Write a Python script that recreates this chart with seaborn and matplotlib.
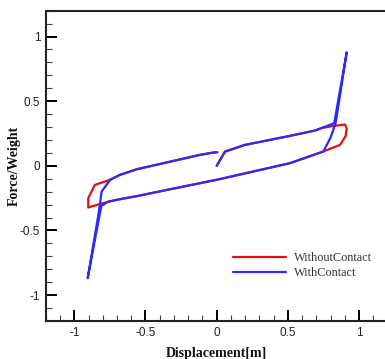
import matplotlib
matplotlib.use("Agg")
import matplotlib.pyplot as plt
import seaborn as sns
import pandas as pd
from matplotlib.ticker import MultipleLocator
from matplotlib.lines import Line2D

# ---- data ----
without_x = [0.0, 0.058, 0.198, 0.515, 0.69, 0.737, 0.80, 0.901, 0.913, 0.905, 0.866, 0.749,
             0.515, 0.02, -0.574, -0.68, -0.784, -0.902, -0.902, -0.855, -0.749,
             -0.68, -0.56, -0.117, -0.024, 0.004]
without_y = [0.0, 0.11, 0.162, 0.232, 0.273, 0.292, 0.305, 0.32, 0.29, 0.23, 0.162, 0.111,
             0.021, -0.103, -0.237, -0.258, -0.284, -0.322, -0.25, -0.147, -0.108,
             -0.07, -0.026, 0.085, 0.103, 0.105]

with_x = [0.0, 0.058, 0.198, 0.515, 0.69, 0.825, 0.913, 0.835, 0.80, 0.749,
          0.515, 0.02, -0.574, -0.68, -0.761, -0.81, -0.906, -0.831, -0.819, -0.808, -0.749,
          -0.68, -0.56, -0.117, -0.024, 0.004]
with_y = [0.0, 0.11, 0.162, 0.232, 0.273, 0.33, 0.879, 0.33, 0.22, 0.111,
          0.021, -0.103, -0.237, -0.258, -0.276, -0.31, -0.869, -0.379, -0.288, -0.199, -0.108,
          -0.07, -0.026, 0.085, 0.103, 0.105]

series_names = ["WithoutContact", "WithContact"]
series_colors = ["#e01010", "#2a2aff"]

x_ticks = [-1, -0.5, 0, 0.5, 1]
x_tick_labels = ["-1", "-0.5", "0", "0.5", "1"]
y_ticks = [-1, -0.5, 0, 0.5, 1]
y_tick_labels = ["-1", "-0.5", "0", "0.5", "1"]

df = pd.concat([
    pd.DataFrame({"x": without_x, "y": without_y, "series": series_names[0]}),
    pd.DataFrame({"x": with_x, "y": with_y, "series": series_names[1]}),
], ignore_index=True)

sns.set_theme(style="white")
plt.rcParams["font.family"] = ["Liberation Sans", "DejaVu Sans"]

fig = plt.figure(figsize=(3.85, 3.59), dpi=100)
ax = fig.add_axes([45.8 / 385, 38 / 359, 341.8 / 385, 310.3 / 359])

sns.lineplot(data=df, x="x", y="y", hue="series", sort=False, estimator=None,
             palette=dict(zip(series_names, series_colors)), linewidth=1.6, ax=ax,
             legend=False)

ax.set_xlim(-1.2, 1.2)
ax.set_ylim(-1.2, 1.2)
ax.set_xticks(x_ticks)
ax.set_xticklabels(x_tick_labels)
ax.set_yticks(y_ticks)
ax.set_yticklabels(y_tick_labels)
ax.xaxis.set_minor_locator(MultipleLocator(0.1))
ax.yaxis.set_minor_locator(MultipleLocator(0.1))
ax.tick_params(which="major", direction="in", length=8, width=1.4, color="black",
               labelsize=8.5, pad=4, labelcolor="#222222", bottom=True, left=True,
               top=False, right=False)
ax.tick_params(which="minor", direction="in", length=4, width=0.8, color="#444444",
               bottom=True, left=True, top=False, right=False)

for side in ["left", "bottom", "top", "right"]:
    ax.spines[side].set_color("#222222")
    ax.spines[side].set_linewidth(1.5)

ax.set_xlabel("Displacement[m]", fontfamily="Liberation Serif", fontweight="bold",
              fontsize=10, labelpad=6, color="#111111")
ax.set_ylabel("Force/Weight", fontfamily="Liberation Serif", fontweight="bold",
              fontsize=10, color="#111111")
ax.yaxis.set_label_coords(-0.073, 0.5)

handles = [Line2D([0], [0], color=c, lw=1.6) for c in series_colors]
leg = ax.legend(handles, series_names, loc="upper left",
                bbox_to_anchor=((222 - 45.8) / 341.8, (359 - 38 - 241) / 310.3),
                frameon=False, handlelength=4.3, handletextpad=0.7, labelspacing=0.25,
                prop={"family": "Liberation Serif", "size": 8.8})
for t in leg.get_texts():
    t.set_color("#333333")

fig.savefig("out.png", dpi=100)
